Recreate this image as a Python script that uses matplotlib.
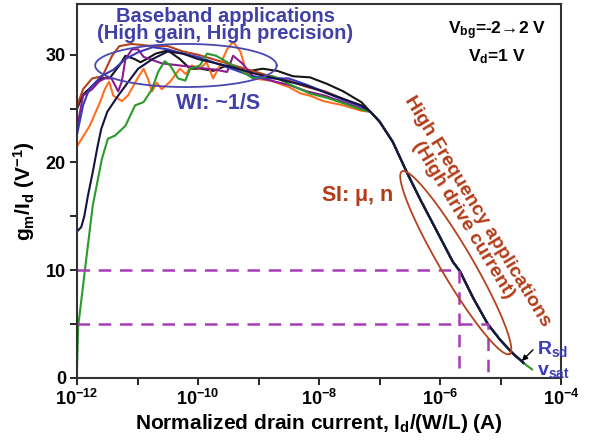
import numpy as np
import matplotlib
matplotlib.use("Agg")
import matplotlib.pyplot as plt
from matplotlib.ticker import FixedLocator, FuncFormatter, MultipleLocator

plt.rcParams['font.family'] = ['Liberation Sans', 'DejaVu Sans']
plt.rcParams['font.weight'] = 'bold'
plt.rcParams['axes.labelweight'] = 'bold'
plt.rcParams['mathtext.fontset'] = 'custom'
plt.rcParams['mathtext.rm'] = 'Liberation Sans:bold'
plt.rcParams['mathtext.it'] = 'Liberation Sans:bold'
plt.rcParams['mathtext.bf'] = 'Liberation Sans:bold'
plt.rcParams['mathtext.default'] = 'bf'

# log10 of normalized drain current, gm/Id values
black_x = [-12, -11.9, -11.75, -11.6, -11.45, -11.3, -11.2, -11.05, -10.95, -10.85, -10.7, -10.5, -10.3,
           -10.13, -9.95, -9.75, -9.52, -9.3, -9.14, -8.93, -8.69, -8.43, -8.15, -7.87, -7.6, -7.3]
black_y = [25.0, 26.3, 27.1, 27.8, 27.9, 29.0, 29.9, 29.6, 29.3, 29.6, 30.1, 30.4, 29.6,
           28.7, 28.7, 28.5, 29.0, 28.6, 28.5, 28.7, 28.5, 28.0, 27.9, 27.3, 26.6, 25.6]

navy_x = [-12, -11.93, -11.88, -11.82, -11.74, -11.66, -11.6, -11.5, -11.32, -11.15, -10.99, -10.75,
          -10.5, -10.25, -10.0, -9.7, -9.4, -9.1, -8.8, -8.5, -8.2, -7.9, -7.6, -7.3]
navy_y = [13.6, 14.0, 15.0, 16.9, 19.1, 21.5, 23.1, 24.7, 26.2, 27.5, 28.7, 29.6,
          30.3, 30.1, 29.6, 29.2, 28.8, 28.3, 27.9, 27.5, 27.1, 26.5, 25.9, 25.3]

blue_x = [-12, -11.9, -11.8, -11.6, -11.4, -11.2, -11.0, -10.75, -10.5, -10.25, -10.0, -9.7, -9.4,
          -9.1, -8.8, -8.5, -8.2, -7.93, -7.6, -7.3]
blue_y = [22.6, 25.3, 26.8, 28.0, 28.6, 29.6, 30.2, 30.7, 30.5, 30.1, 29.8, 29.2, 28.6,
          28.0, 27.8, 27.8, 27.2, 26.6, 25.8, 25.2]

purple_x = [-12, -11.9, -11.75, -11.64, -11.54, -11.43, -11.32, -11.26, -11.2, -11.09, -10.99, -10.9,
            -10.6, -10.3, -10.0, -9.7, -9.52, -9.42, -9.27, -9.09, -8.8, -8.5, -8.2, -7.9, -7.6, -7.3]
purple_y = [23.2, 26.2, 26.8, 27.5, 27.8, 27.8, 26.6, 27.5, 29.6, 30.5, 30.5, 29.8,
            29.2, 29.0, 28.8, 28.6, 28.4, 29.9, 29.2, 28.0, 27.6, 27.2, 26.6, 26.2, 25.6, 25.0]

red_x = [-12, -11.9, -11.75, -11.58, -11.42, -11.3, -11.1, -10.75, -10.5, -10.25, -10.0, -9.7, -9.4,
         -9.1, -8.8, -8.5, -8.2, -7.9, -7.6, -7.3]
red_y = [25.2, 26.8, 27.8, 28.0, 29.9, 30.8, 31.0, 30.8, 30.8, 30.3, 30.0, 29.5, 29.0,
         28.5, 28.0, 27.6, 27.0, 26.6, 25.9, 25.2]

orange_x = [-12, -11.79, -11.62, -11.54, -11.47, -11.4, -11.26, -11.16, -11.0, -10.9, -10.83, -10.76,
            -10.68, -10.6, -10.46, -10.3, -10.2, -10.1, -9.97, -9.86, -9.75, -9.64, -9.52, -9.42,
            -9.3, -9.2, -9.09, -8.8, -8.5, -8.3, -8.15, -7.93, -7.6, -7.3]
orange_y = [21.5, 23.4, 25.6, 26.8, 27.5, 26.2, 25.7, 26.2, 27.8, 28.7, 27.8, 26.6,
            27.4, 26.8, 27.5, 28.7, 28.2, 29.0, 28.7, 29.3, 27.8, 29.0, 30.5, 31.2,
            30.3, 28.4, 27.8, 27.6, 27.0, 26.4, 26.2, 25.7, 25.3, 24.8]

green_x = [-12, -11.98, -11.87, -11.74, -11.59, -11.49, -11.37, -11.2, -11.04, -10.9, -10.76, -10.66,
           -10.55, -10.46, -10.33, -10.21, -10.13, -9.97, -9.85, -9.7, -9.42, -9.09, -8.76, -8.43,
           -8.15, -7.87, -7.6, -7.3]
green_y = [1.0, 4.8, 10.0, 16.0, 20.3, 22.2, 22.5, 23.4, 25.3, 25.6, 26.8, 28.4,
           29.4, 29.0, 27.8, 27.6, 28.7, 29.0, 30.1, 29.9, 29.0, 27.8, 28.0, 27.1,
           26.4, 26.0, 25.5, 24.9]

# all curves merge at high current
tail_x = [-7.15, -7.0, -6.78, -6.55, -6.33, -6.05, -5.79, -5.67, -5.45, -5.21, -5.0, -4.8, -4.62]
tail_y = [24.7, 23.8, 21.9, 19.1, 16.6, 13.6, 10.8, 9.9, 7.4, 5.0, 3.5, 2.3, 1.4]
green_end_x = [-4.48]
green_end_y = [0.8]

# gm/Id design points (dashed guides)
guide_y = [10, 5]
guide_x = [-5.68, -5.2]

curves = [
    (black_x, black_y, '#151515'),
    (red_x, red_y, '#b5411e'),
    (orange_x, orange_y, '#ff7020'),
    (purple_x, purple_y, '#8c1a90'),
    (blue_x, blue_y, '#3a3ab8'),
    (green_x, green_y, '#2a9a2a'),
    (navy_x, navy_y, '#141440'),
]

fig = plt.figure(figsize=(5.91, 4.42), dpi=100)
ax = fig.add_axes([0.1303, 0.1448, 0.819, 0.846])
XMIN, XMAX, YMAX = -12, -4, 34.7

for xs, ys, c in curves:
    lx = list(xs) + tail_x
    ly = list(ys) + tail_y
    if c == '#2a9a2a':
        lx = lx + green_end_x
        ly = ly + green_end_y
    ax.plot(10.0 ** np.array(lx), ly, color=c, lw=1.5)

gc = '#a83cb8'
for gx, gy in zip(guide_x, guide_y):
    ax.plot([10.0 ** XMIN, 10.0 ** gx, 10.0 ** gx], [gy, gy, 0], color=gc, lw=1.8,
            dashes=(5, 3.5))

ax.set_xscale('log')
ax.set_xlim(10.0 ** XMIN, 10.0 ** XMAX)
ax.set_ylim(0, YMAX)

# pixel scale for drawing the ellipses
pxd = 0.819 * 591 / (XMAX - XMIN)
pxy = 0.846 * 442 / YMAX
t = np.linspace(0, 2 * np.pi, 200)

# WI ellipse (blue)
ax.plot(10.0 ** (-10.2 + 1.5 * np.cos(t)), 29.0 + 2.0 * np.sin(t), color='#4848b0', lw=1.3)

# SI / high frequency ellipse (brown), tilted in screen space
th = np.deg2rad(-59.5)
A, B = 106, 16
dx = A * np.cos(t) * np.cos(th) - B * np.sin(t) * np.sin(th)
dy = A * np.cos(t) * np.sin(th) + B * np.sin(t) * np.cos(th)
ax.plot(10.0 ** (-5.74 + dx / pxd), 10.7 + dy / pxy, color='#b5411e', lw=1.3)

blue_txt = '#4040a8'
brown_txt = '#b23c17'
ax.text(10.0 ** -9.55, 32.75, 'Baseband applications\n(High gain, High precision)', color=blue_txt,
        fontsize=14.5, ha='center', va='center', linespacing=0.9)
ax.text(10.0 ** -9.67, 25.5, 'WI: ~1/S', color=blue_txt, fontsize=15.5, ha='center', va='center')
ax.text(10.0 ** -5.06, 32.2, 'V$_{bg}$=-2\u21922 V', color='black', fontsize=12.5,
        ha='center', va='center')
ax.text(10.0 ** -5.06, 29.8, r'V$_d$=1 V', color='black', fontsize=12.5, ha='center', va='center')
ax.text(10.0 ** -7.37, 16.9, r'SI: $\mu$, n', color=brown_txt, fontsize=15.5, ha='center', va='center')
ax.text(10.0 ** -5.5, 15.1, 'High Frequency applications\n(High drive current)', color=brown_txt,
        fontsize=14, ha='center', va='center', rotation=-58.7, rotation_mode='anchor',
        multialignment='center', linespacing=0.95)
ax.text(10.0 ** -4.40, 2.7, r'R$_{sd}$', color='#3a3ab8', fontsize=14, ha='left', va='center')
ax.text(10.0 ** -4.40, 0.6, r'v$_{sat}$', color='#3a3ab8', fontsize=14, ha='left', va='center')
ax.annotate('', xy=(10.0 ** -4.68, 1.4), xytext=(10.0 ** -4.43, 2.8),
            arrowprops=dict(arrowstyle='-|>', color='black', lw=1.0, mutation_scale=8))

ax.xaxis.set_major_locator(FixedLocator([1e-12, 1e-10, 1e-8, 1e-6, 1e-4]))
ax.xaxis.set_minor_locator(FixedLocator([1e-11, 1e-9, 1e-7, 1e-5]))
ax.xaxis.set_major_formatter(FuncFormatter(lambda v, p: r'$\mathbf{10^{%d}}$' % round(np.log10(v))))
ax.xaxis.set_minor_formatter(FuncFormatter(lambda v, p: ''))
ax.yaxis.set_major_locator(FixedLocator([0, 10, 20, 30]))
ax.yaxis.set_minor_locator(MultipleLocator(5))
ax.tick_params(which='both', direction='out', length=5, width=1.2, labelsize=13, pad=3)
ax.tick_params(top=False, right=False)
for s in ax.spines.values():
    s.set_linewidth(1.5)
    s.set_color('#333333')

ax.set_xlabel(r'Normalized drain current, I$_d$/(W/L) (A)', fontsize=15, labelpad=2)
ax.set_ylabel(r'g$_m$/I$_d$ (V$^{-1}$)', fontsize=15, labelpad=6)

fig.savefig('out.png', dpi=100)
